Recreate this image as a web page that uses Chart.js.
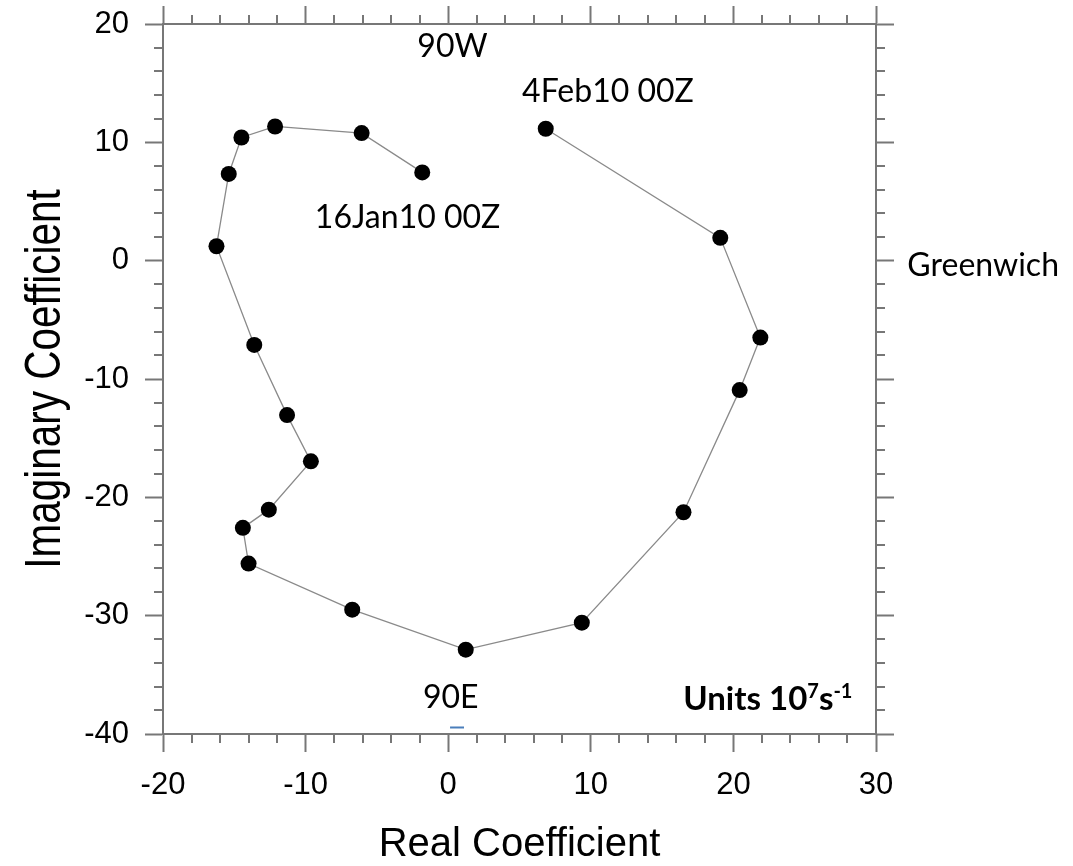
<!DOCTYPE html>
<html>
<head>
<meta charset="utf-8">
<script src="https://cdn.jsdelivr.net/npm/chart.js@4/dist/chart.umd.min.js"></script>
<style>
  html, body { margin: 0; padding: 0; background: #fff; }
  #wrap { width: 1073px; height: 866px; }
</style>
</head>
<body>
<div id="wrap"><canvas id="c" width="1073" height="866"></canvas></div>
<script>
// ---- data ----
const realCoef = [-1.82, -6.07, -12.14, -14.5, -15.39, -16.25, -13.6, -11.3, -9.63, -12.58,
                  -14.4, -14.0, -6.73, 1.23, 9.37, 16.5, 20.44, 21.89, 19.08, 6.84];
const imagCoef = [7.46, 10.78, 11.34, 10.41, 7.33, 1.22, -7.12, -13.05, -16.96, -21.04,
                  -22.58, -25.6, -29.49, -32.87, -30.59, -21.26, -10.94, -6.5, 1.93, 11.15];
const xTicks = [-20, -10, 0, 10, 20, 30];
const yTicks = [-40, -30, -20, -10, 0, 10, 20];
const annoTexts = ["90W", "4Feb10 00Z", "16Jan10 00Z", "Greenwich", "90E"];
const annoX = [0.3, 5.18, -9.35, 32.2, -1.77];
const annoY = [17.2, 13.42, 2.8, -1.33, -37.84];
const annoAlign = ["center", "left", "left", "left", "left"];
const xTitle = "Real Coefficient";
const yTitle = "Imaginary Coefficient";

const points = realCoef.map((x, i) => ({ x: x, y: imagCoef[i] }));
const AX = '#777';
const sansFam = "'Liberation Sans', Arial, Helvetica, sans-serif";
const tickFont = { family: sansFam, size: 31 };
const annoFont = "Lato, 'Open Sans', sans-serif";

function zeroPad(s) { s.paddingTop = 0; s.paddingBottom = 0; s.paddingLeft = 0; s.paddingRight = 0; }

function axisOpts(extra) {
  return Object.assign({
    type: 'linear',
    grid: { drawOnChartArea: false, drawTicks: true, tickLength: 18, color: AX, tickColor: AX, tickWidth: 2 },
    border: { display: true, color: AX, width: 2 }
  }, extra);
}

const minorTicks = {
  id: 'minorTicks',
  afterDraw(chart) {
    const ctx = chart.ctx, a = chart.chartArea;
    ctx.save();
    ctx.strokeStyle = AX; ctx.lineWidth = 2;
    const sx = chart.scales.x, sy = chart.scales.y;
    for (let v = sx.min; v <= sx.max + 1e-9; v += 2) {
      if (Math.abs(v % 10) < 1e-9) continue;
      const p = Math.round(sx.getPixelForValue(v));
      ctx.beginPath(); ctx.moveTo(p, a.bottom); ctx.lineTo(p, a.bottom + 9); ctx.stroke();
      ctx.beginPath(); ctx.moveTo(p, a.top); ctx.lineTo(p, a.top - 9); ctx.stroke();
    }
    for (let v = sy.min; v <= sy.max + 1e-9; v += 2) {
      if (Math.abs(v % 10) < 1e-9) continue;
      const p = Math.round(sy.getPixelForValue(v));
      ctx.beginPath(); ctx.moveTo(a.left, p); ctx.lineTo(a.left - 9, p); ctx.stroke();
      ctx.beginPath(); ctx.moveTo(a.right, p); ctx.lineTo(a.right + 9, p); ctx.stroke();
    }
    ctx.restore();
  }
};

const annotations = {
  id: 'annotations',
  afterDraw(chart) {
    const ctx = chart.ctx, sx = chart.scales.x, sy = chart.scales.y, a = chart.chartArea;
    ctx.save();
    ctx.fillStyle = '#000';
    ctx.textBaseline = 'alphabetic';
    ctx.font = "32px " + annoFont;
    annoTexts.forEach((t, i) => {
      ctx.textAlign = annoAlign[i];
      ctx.fillText(t, sx.getPixelForValue(annoX[i]), sy.getPixelForValue(annoY[i]));
    });
    // small blue mark under 90E
    ctx.strokeStyle = '#4a7ebb'; ctx.lineWidth = 2;
    const uy = sy.getPixelForValue(-39.45);
    ctx.beginPath(); ctx.moveTo(sx.getPixelForValue(0.13), uy); ctx.lineTo(sx.getPixelForValue(1.11), uy); ctx.stroke();
    // Units label (bold, with superscripts), right aligned
    const right = sx.getPixelForValue(28.35), base = sy.getPixelForValue(-38.0);
    const parts = [["Units 10", 33, 0], ["7", 20, -12], ["s", 33, 0], ["-1", 20, -12]];
    let w = 0;
    parts.forEach(p => { ctx.font = "bold " + p[1] + "px " + annoFont; w += ctx.measureText(p[0]).width; });
    let x = right - w;
    ctx.textAlign = 'left';
    parts.forEach(p => {
      ctx.font = "bold " + p[1] + "px " + annoFont;
      ctx.fillText(p[0], x, base + p[2]);
      x += ctx.measureText(p[0]).width;
    });
    // Y axis title (rotated, tall narrow lettering like the reference)
    ctx.font = "50px " + sansFam;
    ctx.textAlign = 'center';
    ctx.textBaseline = 'alphabetic';
    ctx.translate(60, (a.top + a.bottom) / 2);
    ctx.rotate(-Math.PI / 2);
    ctx.scale(0.81, 1);
    ctx.fillText(yTitle, 0, 0);
    ctx.restore();
  }
};

new Chart(document.getElementById('c'), {
  type: 'scatter',
  data: {
    datasets: [{
      data: points,
      showLine: true,
      borderColor: '#8a8a8a',
      borderWidth: 1.3,
      tension: 0,
      pointRadius: 8,
      pointBackgroundColor: '#000',
      pointBorderWidth: 0,
      pointBorderColor: '#000'
    }]
  },
  options: {
    responsive: false,
    animation: false,
    layout: { padding: 0 },
    plugins: { legend: { display: false }, tooltip: { enabled: false } },
    scales: {
      x: axisOpts({
        position: 'bottom', min: -20, max: 30,
        afterBuildTicks: s => { s.ticks = xTicks.map(v => ({ value: v })); },
        ticks: { font: tickFont, color: '#000', padding: 15, maxRotation: 0 },
        title: { display: true, text: xTitle, color: '#000',
                 font: { family: sansFam, size: 40, lineHeight: 1 }, padding: { top: 0, bottom: 1 } },
        afterFit: s => { s.height = 132; zeroPad(s); }
      }),
      y: axisOpts({
        position: 'left', min: -40, max: 20,
        afterBuildTicks: s => { s.ticks = yTicks.map(v => ({ value: v })); },
        ticks: { font: tickFont, color: '#000', padding: 16 },
        afterFit: s => { s.width = 163; zeroPad(s); }
      }),
      x2: axisOpts({
        axis: 'x', position: 'top', min: -20, max: 30,
        afterBuildTicks: s => { s.ticks = xTicks.map(v => ({ value: v })); },
        ticks: { display: false },
        afterFit: s => { s.height = 24; zeroPad(s); }
      }),
      y2: axisOpts({
        axis: 'y', position: 'right', min: -40, max: 20,
        afterBuildTicks: s => { s.ticks = yTicks.map(v => ({ value: v })); },
        ticks: { display: false },
        afterFit: s => { s.width = 197; zeroPad(s); }
      })
    }
  },
  plugins: [minorTicks, annotations]
});
</script>
</body>
</html>
